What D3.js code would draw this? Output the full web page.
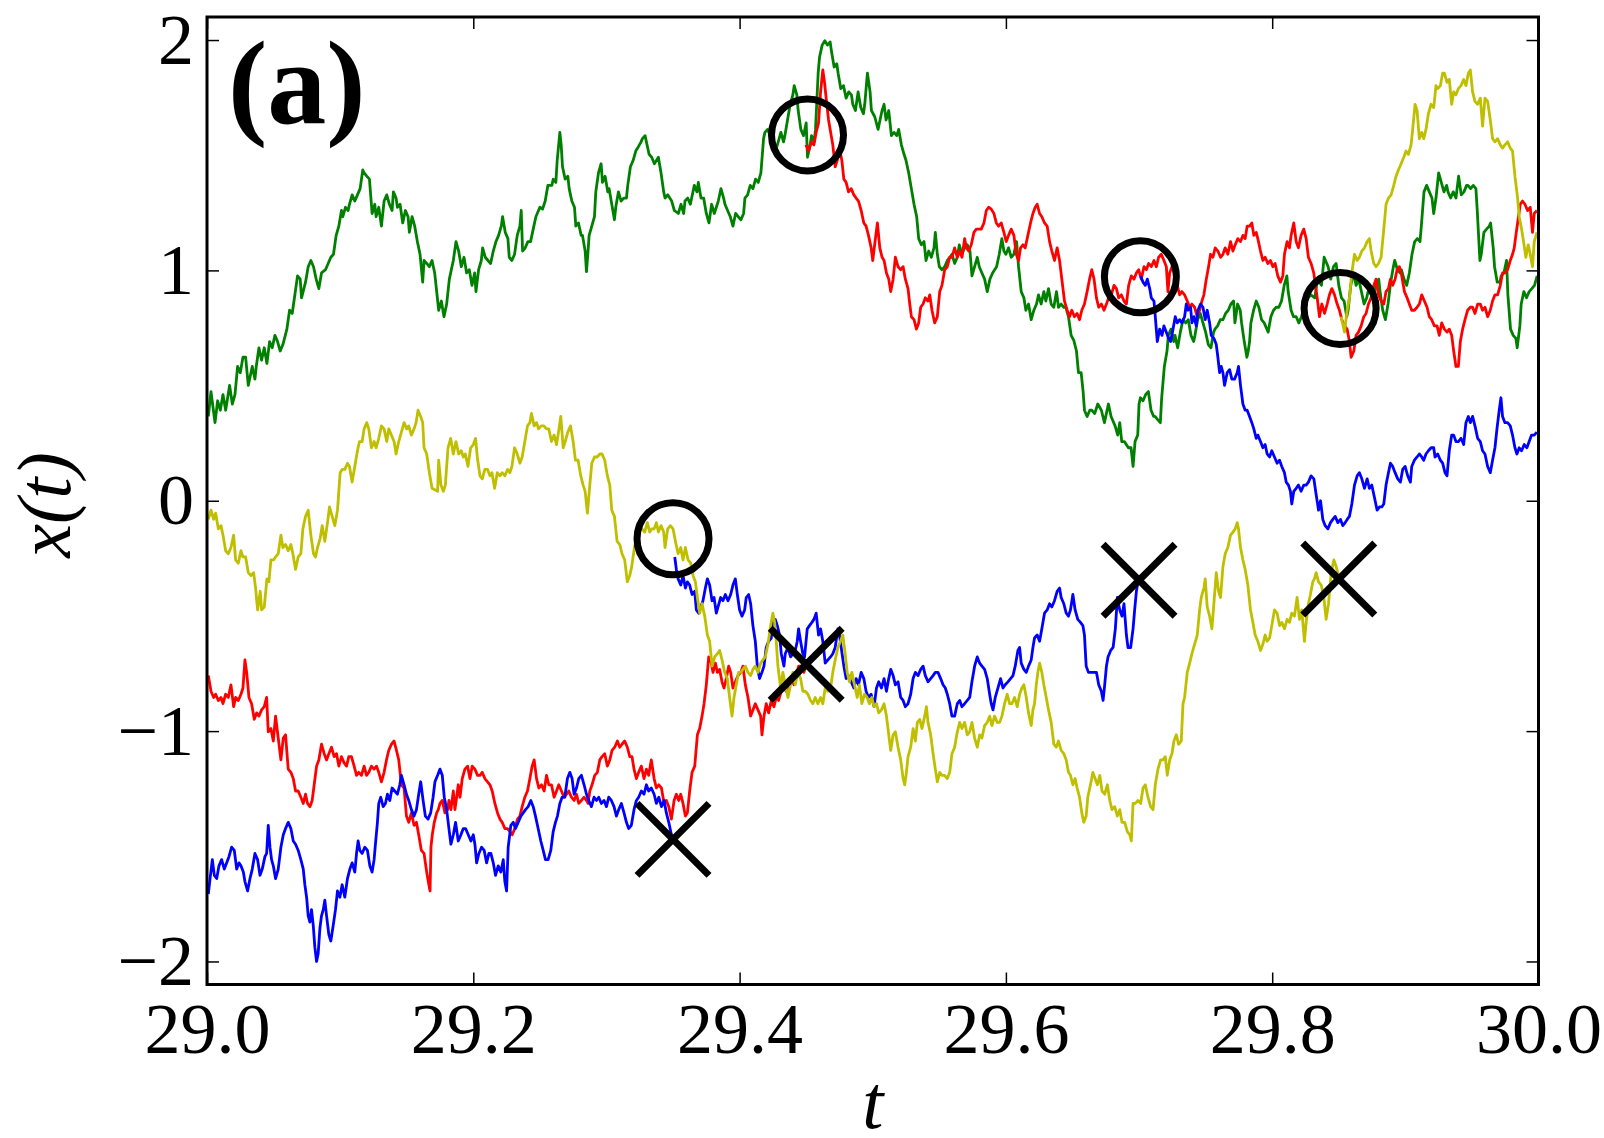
<!DOCTYPE html>
<html>
<head>
<meta charset="utf-8">
<script src="https://cdn.jsdelivr.net/npm/d3@7"></script>
<style>
  html, body { margin: 0; padding: 0; background: #fff; }
</style>
</head>
<body>
<div id="container"></div>
<script>
// trajectories: [t, x(t)]
const green = [
  [29.001,0.366],[29.003,0.474],[29.006,0.339],[29.008,0.434],[29.010,0.393],[29.012,0.461],[29.014,0.393],[29.017,0.501],[29.019,0.420],[29.021,0.461],[29.023,0.583],[29.025,0.556],[29.027,0.623],[29.029,0.623],[29.031,0.501],[29.034,0.583],[29.036,0.528],[29.037,0.583],[29.039,0.664],[29.041,0.610],[29.043,0.664],[29.045,0.596],[29.047,0.691],[29.049,0.664],[29.051,0.718],[29.053,0.691],[29.055,0.650],[29.057,0.678],[29.060,0.745],[29.062,0.827],[29.064,0.813],[29.066,0.894],[29.068,0.976],[29.070,0.962],[29.071,0.881],[29.074,0.949],[29.076,1.016],[29.078,1.043],[29.080,1.016],[29.082,0.962],[29.084,0.921],[29.086,0.989],[29.089,1.003],[29.091,1.030],[29.093,1.057],[29.095,1.070],[29.097,1.152],[29.099,1.192],[29.101,1.260],[29.102,1.233],[29.104,1.274],[29.106,1.260],[29.107,1.287],[29.109,1.328],[29.111,1.301],[29.113,1.328],[29.115,1.355],[29.117,1.436],[29.118,1.423],[29.120,1.409],[29.122,1.396],[29.124,1.247],[29.126,1.287],[29.127,1.233],[29.129,1.274],[29.131,1.192],[29.133,1.301],[29.135,1.328],[29.137,1.287],[29.139,1.260],[29.140,1.341],[29.142,1.314],[29.143,1.274],[29.145,1.287],[29.147,1.206],[29.149,1.260],[29.151,1.233],[29.152,1.165],[29.154,1.233],[29.156,1.192],[29.158,1.125],[29.160,1.070],[29.162,0.949],[29.163,1.043],[29.165,1.030],[29.167,1.016],[29.169,1.043],
  [29.171,0.989],[29.172,0.935],[29.174,0.827],[29.176,0.867],[29.178,0.799],[29.180,0.854],[29.182,0.962],[29.185,1.043],[29.187,1.125],[29.189,1.084],[29.191,1.016],[29.193,1.057],[29.195,0.989],[29.197,1.003],[29.199,0.935],[29.201,0.989],[29.202,0.908],[29.204,1.003],[29.206,1.043],[29.207,1.098],[29.209,1.057],[29.211,1.043],[29.213,1.030],[29.215,1.084],[29.217,1.125],[29.219,1.152],[29.221,1.192],[29.222,1.233],[29.224,1.165],[29.226,1.138],[29.227,1.057],[29.229,1.043],[29.231,1.070],[29.233,1.152],[29.235,1.192],[29.236,1.260],[29.237,1.084],[29.239,1.098],[29.241,1.125],[29.243,1.125],[29.245,1.179],[29.247,1.233],[29.250,1.274],[29.252,1.266],[29.254,1.301],[29.256,1.369],[29.259,1.369],[29.260,1.396],[29.262,1.382],[29.263,1.477],[29.265,1.599],[29.266,1.545],[29.267,1.450],[29.269,1.396],[29.271,1.409],[29.272,1.355],[29.274,1.301],[29.276,1.274],[29.277,1.192],[29.279,1.206],[29.281,1.152],[29.282,1.152],[29.284,1.084],[29.285,0.995],[29.286,1.070],[29.287,1.152],[29.289,1.192],[29.291,1.233],[29.292,1.341],[29.294,1.423],[29.296,1.463],[29.297,1.382],[29.299,1.409],[29.301,1.341],[29.302,1.355],[29.304,1.287],[29.306,1.220],[29.307,1.274],[29.309,1.341],[29.311,1.301],[29.313,1.314],[29.315,1.314],[29.316,1.369],[29.318,1.450],[29.320,1.477],[29.322,1.518],[29.324,1.537],[29.326,1.558],[29.327,1.572],[29.329,1.585],[29.331,1.531],[29.332,1.504],[29.334,1.491],[29.336,1.463],
  [29.339,1.491],[29.341,1.423],[29.343,1.341],[29.344,1.314],[29.346,1.328],[29.349,1.301],[29.351,1.260],[29.354,1.247],[29.356,1.287],[29.358,1.247],[29.359,1.301],[29.361,1.314],[29.363,1.287],[29.366,1.369],[29.368,1.341],[29.369,1.382],[29.371,1.314],[29.373,1.314],[29.375,1.247],[29.377,1.206],[29.379,1.287],[29.381,1.247],[29.384,1.301],[29.386,1.355],[29.388,1.314],[29.389,1.287],[29.391,1.260],[29.393,1.233],[29.395,1.192],[29.397,1.247],[29.399,1.233],[29.401,1.220],[29.403,1.247],[29.404,1.314],[29.406,1.328],[29.408,1.369],[29.410,1.355],[29.412,1.396],[29.414,1.382],[29.416,1.423],[29.418,1.572],[29.419,1.599],[29.421,1.612],[29.423,1.585],[29.425,1.558],[29.427,1.518],[29.429,1.558],[29.431,1.599],[29.433,1.558],[29.434,1.585],[29.436,1.653],[29.438,1.721],[29.440,1.762],[29.441,1.802],[29.443,1.762],[29.444,1.694],[29.446,1.612],[29.448,1.585],[29.450,1.640],[29.451,1.491],[29.453,1.545],[29.454,1.585],[29.456,1.558],[29.457,1.612],[29.459,1.856],[29.460,1.924],[29.462,1.978],[29.464,1.997],[29.466,1.978],[29.468,1.992],[29.469,1.951],[29.471,1.883],[29.473,1.897],[29.474,1.856],[29.476,1.789],[29.478,1.802],[29.480,1.748],[29.482,1.775],[29.484,1.762],[29.485,1.721],[29.487,1.694],[29.489,1.775],[29.491,1.707],[29.493,1.680],[29.494,1.721],[29.496,1.856],[29.498,1.775],[29.499,1.694],
  [29.5015,1.667],[29.504,1.612],[29.505,1.640],[29.507,1.694],[29.5085,1.721],[29.510,1.653],[29.512,1.694],[29.514,1.585],[29.516,1.599],[29.518,1.585],[29.5195,1.612],[29.5215,1.545],[29.5235,1.504],[29.525,1.477],[29.527,1.423],[29.529,1.355],[29.531,1.287],[29.533,1.233],[29.5345,1.138],[29.5365,1.111],[29.5385,1.125],[29.540,1.043],[29.542,1.084],[29.544,1.057],[29.546,1.098],[29.547,1.165],[29.5485,1.070],[29.550,1.016],[29.552,1.003],[29.554,1.016],[29.556,1.043],[29.558,1.057],[29.5595,1.070],[29.5615,1.030],[29.5635,1.057],[29.565,1.111],[29.567,1.070],[29.569,1.098],[29.571,1.111],[29.573,1.084],[29.5745,0.976],[29.5765,1.016],[29.5785,1.057],[29.580,1.016],[29.582,0.989],[29.584,0.962],[29.586,0.908],[29.588,0.962],[29.590,0.989],[29.593,1.016],[29.595,1.070],[29.597,1.138],[29.5985,1.084],[29.600,1.070],[29.602,1.098],[29.604,1.057],[29.606,1.070],[29.608,1.125],[29.6095,1.016],[29.6115,0.908],[29.6135,0.881],[29.615,0.827],[29.617,0.854],[29.619,0.786],[29.621,0.827],[29.623,0.854],[29.6245,0.894],[29.6265,0.854],[29.6285,0.908],[29.630,0.867],[29.632,0.921],[29.634,0.854],[29.636,0.840],[29.638,0.908],[29.6395,0.840],[29.6415,0.854],[29.6435,0.840],[29.645,0.840],[29.647,0.799],[29.649,0.718],[29.651,0.696],[29.653,0.650],[29.6545,0.556],[29.6565,0.556],[29.658,0.474],[29.659,0.393],[29.661,0.366],[29.663,0.393],[29.6645,0.393],
  [29.6667,0.379],[29.669,0.420],[29.6717,0.393],[29.674,0.339],[29.677,0.420],[29.679,0.366],[29.682,0.325],[29.684,0.285],[29.6855,0.339],[29.687,0.257],[29.689,0.257],[29.692,0.230],[29.694,0.230],[29.6955,0.149],[29.697,0.257],[29.699,0.285],[29.700,0.420],[29.701,0.447],[29.703,0.434],[29.705,0.461],[29.707,0.474],[29.709,0.393],[29.711,0.366],[29.712,0.366],[29.714,0.352],[29.716,0.339],[29.717,0.447],[29.719,0.583],[29.721,0.650],[29.722,0.718],[29.724,0.745],[29.726,0.691],[29.727,0.718],[29.729,0.664],[29.731,0.732],[29.733,0.786],[29.735,0.772],[29.737,0.786],[29.739,0.718],[29.741,0.691],[29.742,0.718],[29.744,0.786],[29.746,0.813],[29.748,0.772],[29.750,0.732],[29.752,0.678],[29.754,0.664],[29.756,0.732],[29.757,0.745],[29.759,0.759],[29.761,0.786],[29.763,0.786],[29.765,0.813],[29.767,0.827],[29.769,0.854],[29.771,0.867],[29.772,0.772],[29.774,0.854],[29.776,0.827],[29.777,0.772],[29.779,0.691],[29.781,0.623],[29.782,0.650],[29.783,0.691],[29.784,0.772],[29.786,0.827],[29.788,0.867],[29.790,0.840],[29.792,0.786],[29.794,0.772],[29.796,0.745],[29.797,0.732],[29.799,0.799],[29.801,0.827],[29.803,0.840],[29.805,0.840],[29.807,0.867],[29.809,0.935],[29.811,0.976],[29.812,0.908],[29.8142,0.827],[29.816,0.799],[29.818,0.799],[29.820,0.772],[29.822,0.799],[29.824,0.840],[29.827,0.881],[29.829,0.894],
  [29.832,0.881],[29.834,0.962],[29.837,0.935],[29.839,1.057],[29.842,1.016],[29.844,0.962],[29.846,1.016],[29.848,1.030],[29.850,0.935],[29.852,0.881],[29.854,0.867],[29.856,0.799],[29.857,0.827],[29.859,0.935],[29.861,0.989],[29.863,0.935],[29.865,0.962],[29.867,0.908],[29.869,0.854],[29.871,0.881],[29.872,0.908],[29.874,0.921],[29.876,0.881],[29.878,0.935],[29.880,0.962],[29.881,0.908],[29.883,0.827],[29.885,0.786],[29.887,0.854],[29.889,0.949],[29.891,1.016],[29.892,1.043],[29.894,1.003],[29.896,0.989],[29.897,1.003],[29.899,0.962],[29.901,0.935],[29.903,0.989],[29.905,1.070],[29.907,1.125],[29.909,1.138],[29.911,1.125],[29.912,1.192],[29.914,1.341],[29.916,1.369],[29.918,1.341],[29.920,1.314],[29.9213,1.247],[29.923,1.314],[29.925,1.423],[29.927,1.382],[29.929,1.341],[29.931,1.369],[29.932,1.341],[29.934,1.314],[29.936,1.341],[29.938,1.314],[29.940,1.409],[29.942,1.328],[29.944,1.341],[29.946,1.369],[29.947,1.369],[29.949,1.355],[29.951,1.369],[29.953,1.355],[29.954,1.260],[29.956,1.043],[29.957,1.070],[29.959,1.165],[29.961,1.179],[29.963,1.192],[29.964,1.206],[29.966,1.098],[29.967,1.016],[29.969,0.949],[29.971,0.949],[29.972,0.976],[29.974,0.989],[29.976,1.043],[29.977,0.894],[29.979,0.745],[29.981,0.718],[29.983,0.705],[29.984,0.664],[29.986,0.759],[29.987,0.854],[29.989,0.908],[29.991,0.881],[29.993,0.908],[29.995,0.921],[29.997,0.935],[29.999,0.976]
];

const red1 = [
  [29.001,-0.759],[29.003,-0.827],[29.005,-0.854],[29.0065,-0.840],[29.0085,-0.867],[29.0105,-0.854],[29.012,-0.881],[29.014,-0.840],[29.016,-0.854],[29.018,-0.799],[29.020,-0.894],[29.0215,-0.854],[29.0235,-0.867],[29.0255,-0.840],[29.027,-0.813],[29.0285,-0.691],[29.0298,-0.745],[29.0315,-0.854],[29.0335,-0.881],[29.0355,-0.949],[29.0373,-0.921],[29.039,-0.935],[29.041,-0.908],[29.043,-0.894],[29.0448,-0.854],[29.046,-1.003],[29.048,-0.989],[29.0498,-1.043],[29.0515,-0.935],[29.0535,-1.030],[29.0555,-1.125],[29.0573,-1.030],[29.059,-1.016],[29.061,-1.165],[29.063,-1.179],[29.0648,-1.206],[29.0665,-1.260],[29.0685,-1.260],[29.0705,-1.287],[29.0723,-1.314],[29.074,-1.274],[29.0755,-1.314],[29.0773,-1.328],[29.079,-1.301],[29.0805,-1.233],[29.0823,-1.152],[29.084,-1.125],[29.086,-1.057],[29.088,-1.098],[29.0898,-1.125],[29.0915,-1.098],[29.0935,-1.070],[29.0955,-1.111],[29.0973,-1.098],[29.099,-1.152],[29.101,-1.111],[29.103,-1.138],[29.1048,-1.152],[29.1065,-1.111],[29.1085,-1.111],[29.1105,-1.152],[29.1123,-1.192],[29.114,-1.179],[29.116,-1.192],[29.118,-1.152],[29.1198,-1.192],[29.1215,-1.179],[29.1235,-1.152],[29.1255,-1.165],[29.1273,-1.152],[29.129,-1.179],[29.131,-1.220],[29.133,-1.179],[29.1348,-1.125],[29.1365,-1.084],[29.1385,-1.057],[29.1405,-1.043],[29.1423,-1.084],[29.144,-1.125],[29.146,-1.233],[29.148,-1.247],[29.1498,-1.369],[29.1515,-1.396],[29.1535,-1.355],[29.1555,-1.409],[29.1573,-1.396],[29.159,-1.450],[29.161,-1.518],[29.163,-1.531],
  [29.165,-1.612],[29.1662,-1.653],[29.1675,-1.694],[29.1682,-1.504],[29.1692,-1.450],[29.1707,-1.396],[29.1725,-1.355],[29.1737,-1.341],[29.175,-1.314],[29.1767,-1.301],[29.1787,-1.355],[29.1807,-1.341],[29.1817,-1.301],[29.1832,-1.341],[29.185,-1.260],[29.1862,-1.341],[29.1875,-1.287],[29.1887,-1.233],[29.19,-1.287],[29.1917,-1.206],[29.1937,-1.165],[29.1957,-1.152],[29.1975,-1.206],[29.1992,-1.152],[29.2012,-1.165],[29.2032,-1.192],[29.205,-1.192],[29.2067,-1.179],[29.2087,-1.206],[29.2107,-1.220],[29.2125,-1.233],[29.2142,-1.260],[29.2162,-1.314],[29.2182,-1.355],[29.22,-1.382],[29.2217,-1.396],[29.2237,-1.423],[29.2257,-1.423],[29.2275,-1.436],[29.2292,-1.450],[29.2312,-1.423],[29.2332,-1.382],[29.235,-1.369],[29.2367,-1.328],[29.2387,-1.287],[29.2407,-1.260],[29.2425,-1.206],[29.2442,-1.152],[29.2457,-1.125],[29.2475,-1.206],[29.2492,-1.247],[29.2512,-1.233],[29.2532,-1.260],[29.255,-1.192],[29.2567,-1.233],[29.2587,-1.233],[29.2607,-1.287],[29.2625,-1.260],[29.2642,-1.233],[29.2662,-1.260],[29.2682,-1.287],[29.27,-1.274],[29.2717,-1.260],[29.2737,-1.287],[29.2757,-1.301],[29.2775,-1.274],[29.2792,-1.314],[29.2812,-1.301],[29.2832,-1.287],[29.285,-1.301],[29.2862,-1.314],[29.2875,-1.260],[29.2892,-1.233],[29.2912,-1.192],[29.2932,-1.179],[29.295,-1.125],[29.2967,-1.111],[29.2987,-1.098],[29.3007,-1.152],[29.3025,-1.125],[29.3042,-1.084],[29.3062,-1.070],[29.3082,-1.043],[29.31,-1.070],[29.3117,-1.057],[29.3137,-1.043],[29.3157,-1.070],[29.3175,-1.111],[29.3192,-1.111],[29.3207,-1.165],[29.3225,-1.206],[29.3242,-1.179],[29.3262,-1.152],[29.3282,-1.206],[29.33,-1.165],[29.3317,-1.192],[29.3337,-1.125],
  [29.3358,-1.206],[29.3375,-1.247],[29.3393,-1.233],[29.3413,-1.247],[29.3433,-1.314],[29.345,-1.301],[29.3468,-1.328],[29.3488,-1.382],[29.3508,-1.301],[29.3525,-1.274],[29.3543,-1.301],[29.3558,-1.274],[29.3575,-1.314],[29.3593,-1.369],[29.3608,-1.355],[29.3625,-1.260],[29.3643,-1.179],[29.3663,-1.152],[29.3683,-1.016],[29.37,-0.989],[29.3718,-0.935],[29.3733,-0.881],[29.375,-0.799],[29.3768,-0.678],[29.3783,-0.691],[29.38,-0.745],[29.3818,-0.705],[29.3833,-0.745],[29.385,-0.732],[29.3868,-0.786],[29.3883,-0.813],[29.39,-0.772],[29.3918,-0.718],[29.3933,-0.745],[29.395,-0.813],[29.3968,-0.786],[29.3988,-0.759],[29.4008,-0.745],[29.4025,-0.718],[29.4043,-0.799],[29.4063,-0.854],[29.4083,-0.935],[29.41,-0.908],[29.4118,-0.881],[29.4138,-0.908],[29.4158,-0.935],[29.4168,-1.016],[29.4183,-0.935],[29.42,-0.881],[29.4218,-0.921],[29.4238,-0.867],[29.4258,-0.894],[29.4275,-0.854],[29.4293,-0.867],[29.4313,-0.827],[29.4333,-0.813],[29.435,-0.827],[29.4368,-0.799],[29.4388,-0.772],[29.4408,-0.799],[29.4425,-0.759],[29.4443,-0.718],[29.4463,-0.718],[29.4483,-0.745],[29.45,-0.713]
];

const red2 = [
  [29.4498,1.545],[29.4518,1.518],[29.4538,1.558],[29.4558,1.545],[29.4575,1.599],[29.4593,1.640],[29.4608,1.775],[29.4625,1.870],[29.4638,1.816],[29.465,1.748],[29.4668,1.653],[29.4688,1.585],[29.47,1.545],[29.4718,1.450],[29.4733,1.477],[29.475,1.531],[29.4768,1.477],[29.4783,1.396],[29.48,1.382],[29.4818,1.341],[29.4838,1.355],[29.4858,1.328],[29.4875,1.314],[29.4893,1.301],[29.4913,1.260],[29.4933,1.206],[29.495,1.192],[29.4968,1.152],[29.4988,1.098],[29.5,1.043],
  [29.502,1.138],[29.5035,1.206],[29.5053,1.098],[29.507,1.057],[29.5085,1.043],[29.5103,0.989],[29.512,0.962],[29.5135,0.908],[29.5153,0.962],[29.517,1.057],[29.519,1.016],[29.521,1.003],[29.5228,1.016],[29.5245,0.962],[29.5265,0.921],[29.5278,0.854],[29.529,0.799],[29.531,0.786],[29.5328,0.745],[29.5345,0.772],[29.536,0.840],[29.5378,0.854],[29.5395,0.881],[29.5415,0.867],[29.5428,0.894],[29.5445,0.827],[29.5465,0.772],[29.5485,0.799],[29.5503,0.908],[29.552,0.935],[29.554,1.003],[29.556,1.016],[29.5578,1.057],[29.5595,1.057],[29.5615,1.098],[29.5635,1.057],[29.5653,1.084],[29.567,1.057],[29.569,1.138],[29.5703,1.098],[29.572,1.084],[29.574,1.111],[29.576,1.165],[29.5778,1.179],[29.5795,1.179],[29.5815,1.179],[29.5835,1.206],[29.5853,1.260],[29.587,1.274],[29.589,1.266],[29.591,1.247],[29.5928,1.206],[29.5945,1.192],[29.5965,1.206],[29.5985,1.165],[29.6003,1.125],[29.602,1.152],[29.604,1.179],[29.606,1.152],[29.6078,1.070],[29.6095,1.043],[29.611,1.098],[29.6128,1.111],[29.6145,1.098],[29.6165,1.152],[29.6185,1.206],[29.6203,1.247],[29.622,1.274],[29.6235,1.287],[29.6253,1.247],[29.627,1.233],[29.629,1.206],[29.631,1.192],[29.6328,1.125],[29.6345,1.084],[29.6365,1.043],[29.6385,1.098],[29.6403,1.043],[29.642,0.962],[29.644,0.867],[29.646,0.827],[29.6478,0.799],[29.6495,0.827],[29.6515,0.799],[29.6535,0.813],[29.6553,0.786],[29.657,0.827],[29.659,0.854],[29.661,0.908],[29.6628,0.962],[29.6645,1.003],
  [29.6662,0.962],[29.668,0.881],[29.6697,0.840],[29.6717,0.854],[29.6737,0.827],[29.6755,0.854],[29.6772,0.881],[29.6792,0.894],[29.6812,0.935],[29.683,0.921],[29.6847,0.881],[29.6867,0.894],[29.6887,0.867],[29.6905,0.854],[29.6922,0.935],[29.6942,0.976],[29.6962,0.962],[29.698,0.989],[29.6997,1.003],[29.7017,0.962],[29.7037,1.016],[29.7055,1.003],[29.7072,1.030],[29.7092,1.016],[29.7112,1.043],[29.713,1.016],[29.7147,1.057],[29.7167,1.070],[29.7187,1.043],[29.7205,1.016],[29.7217,0.908],[29.723,0.989],[29.7247,1.016],[29.7267,0.989],[29.7287,0.935],[29.7305,0.894],[29.7322,0.908],[29.7342,0.894],[29.7362,0.867],[29.738,0.840],[29.7397,0.854],[29.7417,0.840],[29.7437,0.799],[29.7455,0.827],[29.7472,0.867],[29.7487,0.894],[29.7505,0.962],[29.7522,1.016],[29.7537,1.070],[29.7555,1.057],[29.7572,1.098],[29.7592,1.084],[29.7612,1.057],[29.763,1.070],[29.7647,1.098],[29.7667,1.070],[29.7687,1.125],[29.7705,1.084],[29.7722,1.111],[29.7742,1.138],[29.7762,1.125],[29.778,1.152],[29.7797,1.138],[29.7812,1.192],[29.783,1.192],[29.7847,1.206],[29.7862,1.152],[29.788,1.165],[29.7892,1.138],[29.7912,1.084],[29.793,1.043],[29.7947,1.057],[29.7967,1.030],[29.7987,1.043],[29.8005,1.016],[29.8022,1.030],[29.8042,0.976],[29.8062,0.949],[29.808,0.976],[29.8092,1.070],[29.8112,1.125],[29.813,1.098],[29.8142,1.152],[29.8162,1.206],[29.818,1.125],[29.8197,1.098],[29.8217,1.152],[29.8237,1.179],[29.8255,1.138],[29.8272,1.057],[29.8292,1.030],[29.8312,0.989],
  [29.8338,0.881],[29.8355,0.799],[29.8373,0.854],[29.8393,0.813],[29.8413,0.854],[29.843,0.894],[29.8448,0.921],[29.8468,0.894],[29.8488,0.854],[29.8505,0.827],[29.8523,0.786],[29.8543,0.759],[29.8563,0.745],[29.858,0.691],[29.8593,0.623],[29.8613,0.650],[29.863,0.718],[29.8648,0.732],[29.8668,0.759],[29.8688,0.799],[29.8705,0.813],[29.8723,0.854],[29.8743,0.881],[29.8763,0.935],[29.878,0.962],[29.8798,0.894],[29.8818,0.867],[29.8838,0.854],[29.8855,0.908],[29.8873,0.921],[29.8888,0.962],[29.8905,0.935],[29.8923,0.962],[29.8938,1.003],[29.8955,1.016],[29.8973,0.976],[29.8993,0.908],[29.9013,0.881],[29.903,0.854],[29.9048,0.827],[29.9068,0.827],[29.9088,0.840],[29.9105,0.854],[29.9123,0.894],[29.9143,0.867],[29.9163,0.840],[29.918,0.799],[29.9198,0.786],[29.9218,0.759],[29.9238,0.759],[29.9255,0.718],[29.9273,0.772],[29.9293,0.745],[29.9313,0.732],[29.933,0.745],[29.9348,0.718],[29.9363,0.650],[29.938,0.583],[29.9398,0.583],[29.9413,0.691],[29.943,0.745],[29.9448,0.786],[29.9468,0.827],[29.9488,0.840],[29.9505,0.840],[29.9523,0.813],[29.9543,0.854],[29.9563,0.854],[29.958,0.827],[29.9598,0.840],[29.9618,0.799],[29.9638,0.827],[29.9655,0.867],[29.9673,0.894],[29.9693,0.894],[29.9713,0.935],[29.973,0.989],[29.9748,0.989],[29.9768,1.003],[29.9788,1.043],[29.9805,1.070],[29.9818,1.098],[29.983,1.152],[29.9843,1.206],[29.9863,1.287],[29.988,1.301],[29.9898,1.287],[29.9918,1.260],[29.9938,1.274],[29.9955,1.165],[29.9968,1.247],[29.9988,1.260]
];

const blue1 = [
  [29.001,-1.707],[29.0023,-1.640],[29.004,-1.558],[29.0055,-1.626],[29.0073,-1.640],[29.009,-1.585],[29.011,-1.558],[29.013,-1.599],[29.0148,-1.572],[29.0165,-1.545],[29.0185,-1.504],[29.0205,-1.518],[29.0223,-1.599],[29.024,-1.572],[29.0255,-1.585],[29.0273,-1.612],[29.0285,-1.653],[29.0305,-1.694],[29.0323,-1.640],[29.034,-1.599],[29.036,-1.531],[29.038,-1.558],[29.0398,-1.626],[29.0415,-1.599],[29.0435,-1.545],[29.0448,-1.531],[29.046,-1.409],[29.0473,-1.504],[29.0485,-1.558],[29.0498,-1.585],[29.0515,-1.640],[29.0535,-1.599],[29.0555,-1.504],[29.0573,-1.450],[29.059,-1.423],[29.061,-1.396],[29.063,-1.423],[29.0648,-1.477],[29.0665,-1.491],[29.0685,-1.518],[29.0705,-1.558],[29.0723,-1.599],[29.0735,-1.667],[29.0748,-1.721],[29.076,-1.802],[29.0773,-1.829],[29.0785,-1.775],[29.0798,-1.843],[29.081,-1.938],[29.0823,-2.000],[29.0835,-1.965],[29.0848,-1.856],[29.086,-1.802],[29.0873,-1.775],[29.0885,-1.734],[29.0898,-1.802],[29.0915,-1.883],[29.093,-1.911],[29.0948,-1.843],[29.0965,-1.775],[29.098,-1.694],[29.0998,-1.721],[29.1015,-1.667],[29.1035,-1.721],[29.1055,-1.640],[29.1073,-1.599],[29.109,-1.572],[29.111,-1.612],[29.1123,-1.531],[29.1135,-1.477],[29.1148,-1.518],[29.1165,-1.531],[29.1185,-1.504],[29.1205,-1.518],[29.1223,-1.585],[29.124,-1.612],[29.1255,-1.558],[29.1265,-1.491],[29.128,-1.396],[29.129,-1.314],[29.1305,-1.287],[29.1323,-1.328],[29.134,-1.314],[29.1355,-1.274],[29.1373,-1.301],[29.139,-1.247],[29.141,-1.260],[29.143,-1.274],[29.1448,-1.233],[29.146,-1.192],[29.148,-1.233],[29.1498,-1.274],[29.1515,-1.301],[29.1535,-1.341],[29.1555,-1.369],[29.1573,-1.341],[29.159,-1.274],[29.1605,-1.220],[29.1623,-1.301],[29.164,-1.369],[29.166,-1.382],[29.168,-1.355],[29.1698,-1.287],
  [29.1712,-1.220],[29.1732,-1.192],[29.175,-1.165],[29.1767,-1.192],[29.1782,-1.287],[29.18,-1.341],[29.1817,-1.423],[29.1832,-1.491],[29.185,-1.450],[29.1867,-1.396],[29.1887,-1.477],[29.1907,-1.450],[29.1925,-1.423],[29.1942,-1.423],[29.1962,-1.450],[29.1982,-1.477],[29.2,-1.450],[29.2012,-1.491],[29.2025,-1.572],[29.2042,-1.531],[29.2062,-1.504],[29.2082,-1.518],[29.21,-1.572],[29.2117,-1.531],[29.2132,-1.531],[29.215,-1.572],[29.2167,-1.626],[29.2187,-1.585],[29.2207,-1.612],[29.2225,-1.558],[29.2237,-1.653],[29.225,-1.694],[29.2262,-1.504],[29.2282,-1.409],[29.23,-1.396],[29.2317,-1.423],[29.2337,-1.396],[29.2357,-1.369],[29.2375,-1.355],[29.2392,-1.341],[29.2412,-1.328],[29.2432,-1.301],[29.245,-1.328],[29.2467,-1.369],[29.2487,-1.423],[29.2507,-1.477],[29.2525,-1.518],[29.2542,-1.558],[29.2562,-1.558],[29.2582,-1.518],[29.26,-1.436],[29.2617,-1.396],[29.2632,-1.369],[29.265,-1.314],[29.2667,-1.287],[29.2687,-1.287],[29.2707,-1.206],[29.2725,-1.179],[29.2742,-1.206],[29.2757,-1.274],[29.2775,-1.247],[29.2792,-1.206],[29.2812,-1.192],[29.2832,-1.233],[29.285,-1.274],[29.2867,-1.301],[29.2887,-1.328],[29.2907,-1.287],[29.2925,-1.301],[29.2942,-1.287],[29.2962,-1.314],[29.2982,-1.301],[29.3,-1.328],[29.3017,-1.287],[29.3037,-1.301],[29.3057,-1.328],[29.3075,-1.369],[29.3092,-1.341],[29.3112,-1.314],[29.3132,-1.355],[29.315,-1.396],[29.3167,-1.423],[29.3187,-1.409],[29.3207,-1.341],[29.3225,-1.301],[29.3242,-1.287],[29.3262,-1.260],[29.3282,-1.274],[29.33,-1.233],[29.3317,-1.260],[29.3337,-1.247],
  [29.3358,-1.274],[29.3375,-1.314],[29.3393,-1.287],[29.3413,-1.328],[29.3433,-1.301],[29.345,-1.355],[29.3468,-1.396],[29.3488,-1.450],[29.35,-1.477]
];

const blue2 = [
  [29.3513,-0.244],[29.3525,-0.298],[29.3538,-0.339],[29.3558,-0.366],[29.3575,-0.325],[29.3593,-0.379],[29.3608,-0.352],[29.3625,-0.366],[29.3643,-0.407],[29.3663,-0.393],[29.3675,-0.474],[29.3693,-0.488],[29.3708,-0.461],[29.3725,-0.434],[29.3743,-0.379],[29.3758,-0.339],[29.3775,-0.366],[29.3793,-0.434],[29.3808,-0.420],[29.3825,-0.488],[29.3838,-0.461],[29.3858,-0.420],[29.3875,-0.434],[29.3893,-0.407],[29.3913,-0.434],[29.3933,-0.407],[29.395,-0.366],[29.3968,-0.339],[29.3983,-0.407],[29.4,-0.474],[29.4018,-0.501],[29.4038,-0.474],[29.405,-0.420],[29.4068,-0.407],[29.4083,-0.447],[29.41,-0.542],[29.4118,-0.610],[29.4133,-0.718],[29.415,-0.772],[29.4168,-0.745],[29.4183,-0.718],[29.42,-0.637],[29.4218,-0.610],[29.4238,-0.596],[29.425,-0.515],[29.4268,-0.515],[29.4283,-0.542],[29.43,-0.583],[29.4313,-0.664],[29.4333,-0.718],[29.4343,-0.664],[29.4363,-0.637],[29.4383,-0.678],[29.44,-0.664],[29.4418,-0.650],[29.4433,-0.610],[29.4443,-0.556],[29.4458,-0.610],[29.4475,-0.664],[29.4488,-0.678],[29.4508,-0.556],[29.4525,-0.542],[29.4543,-0.528],[29.4558,-0.515],[29.4575,-0.488],[29.4593,-0.583],[29.4608,-0.556],[29.4625,-0.610],[29.4643,-0.705],[29.4663,-0.691],[29.4683,-0.678],[29.47,-0.664],[29.4718,-0.637],[29.4738,-0.556],[29.475,-0.583],[29.4763,-0.637],[29.4783,-0.718],[29.48,-0.772],[29.4818,-0.759],[29.4838,-0.786],[29.4858,-0.813],[29.4875,-0.772],[29.4893,-0.799],[29.4913,-0.745],[29.4933,-0.772],[29.495,-0.827],[29.4968,-0.854],[29.4988,-0.840],
  [29.501,-0.894],[29.5028,-0.813],[29.5045,-0.786],[29.5065,-0.813],[29.5085,-0.772],[29.5103,-0.827],[29.512,-0.772],[29.5135,-0.732],[29.5153,-0.759],[29.517,-0.799],[29.519,-0.786],[29.521,-0.854],[29.5228,-0.867],[29.5245,-0.894],[29.5265,-0.881],[29.5285,-0.840],[29.5303,-0.772],[29.532,-0.745],[29.534,-0.759],[29.536,-0.732],[29.5378,-0.718],[29.5395,-0.759],[29.5415,-0.786],[29.5435,-0.772],[29.5453,-0.759],[29.547,-0.745],[29.549,-0.745],[29.551,-0.772],[29.5528,-0.799],[29.5545,-0.813],[29.556,-0.840],[29.5578,-0.881],[29.5595,-0.935],[29.5615,-0.935],[29.5635,-0.881],[29.5653,-0.867],[29.567,-0.894],[29.569,-0.881],[29.571,-0.867],[29.5728,-0.854],[29.5745,-0.786],[29.5765,-0.718],[29.5785,-0.678],[29.5803,-0.705],[29.582,-0.718],[29.584,-0.732],[29.586,-0.772],[29.5878,-0.840],[29.589,-0.881],[29.5903,-0.908],[29.592,-0.854],[29.594,-0.813],[29.596,-0.772],[29.5978,-0.813],[29.5995,-0.799],[29.6015,-0.786],[29.6035,-0.772],[29.6053,-0.759],[29.607,-0.718],[29.609,-0.650],[29.6103,-0.637],[29.6115,-0.705],[29.6135,-0.732],[29.6153,-0.745],[29.617,-0.718],[29.619,-0.691],[29.6203,-0.637],[29.6215,-0.596],[29.6235,-0.583],[29.6253,-0.610],[29.627,-0.556],[29.629,-0.488],[29.631,-0.474],[29.6328,-0.447],[29.6345,-0.461],[29.6365,-0.434],[29.6385,-0.393],[29.6403,-0.379],[29.6415,-0.420],[29.6435,-0.447],[29.6453,-0.488],[29.647,-0.501],[29.6485,-0.474],[29.6503,-0.407],[29.652,-0.474],[29.654,-0.515],[29.656,-0.528],[29.6578,-0.542],[29.659,-0.583],[29.6603,-0.718],[29.662,-0.745],[29.664,-0.745],
  [29.6662,-0.745],[29.668,-0.745],[29.6697,-0.799],[29.6717,-0.827],[29.673,-0.867],[29.6742,-0.799],[29.6755,-0.718],[29.6767,-0.678],[29.6787,-0.650],[29.6805,-0.637],[29.6822,-0.556],[29.6837,-0.420],[29.6855,-0.474],[29.6872,-0.501],[29.6887,-0.447],[29.6905,-0.583],[29.6917,-0.637],[29.6937,-0.637],[29.6955,-0.556],[29.6967,-0.474],[29.698,-0.393],[29.6992,-0.352],[29.7005,-0.352]
];

const blue3 = [
  [29.7012,0.976],[29.703,0.949],[29.7047,0.935],[29.7062,0.962],[29.708,0.921],[29.7092,0.881],[29.7112,0.867],[29.7122,0.799],[29.7137,0.691],[29.7155,0.745],[29.7172,0.718],[29.7187,0.759],[29.7205,0.732],[29.7222,0.705],[29.7237,0.691],[29.7255,0.745],[29.7272,0.799],[29.7287,0.772],[29.7305,0.786],[29.7322,0.772],[29.7342,0.799],[29.7355,0.854],[29.7367,0.827],[29.7387,0.840],[29.7397,0.772],[29.7412,0.799],[29.743,0.759],[29.7442,0.827],[29.7462,0.854],[29.748,0.840],[29.7497,0.786],[29.7512,0.827],[29.753,0.772],[29.7542,0.718],[29.7562,0.705],[29.758,0.678],[29.7592,0.623],[29.7605,0.556],[29.7617,0.583],[29.763,0.556],[29.7642,0.501],[29.7662,0.556],[29.768,0.569],[29.7697,0.528],[29.7717,0.528],[29.7737,0.556],[29.7747,0.583],[29.7762,0.501],[29.778,0.420],[29.7797,0.393],[29.7812,0.393],[29.783,0.366],[29.7847,0.339],[29.7862,0.312],[29.788,0.271],[29.7892,0.285],[29.7912,0.257],[29.793,0.230],[29.7947,0.244],[29.7962,0.203],[29.798,0.190],[29.7997,0.217],[29.8017,0.190],[29.8037,0.163],[29.8055,0.176],[29.8072,0.149],[29.8092,0.122],[29.8105,0.081],[29.8122,0.068],[29.8137,0.041],[29.8147,-0.014],[29.8162,0.041],[29.818,0.054],[29.8197,0.068],[29.8217,0.041],[29.8237,0.068],[29.8255,0.068],[29.8272,0.081],[29.8292,0.108],
  [29.8313,0.095],[29.833,0.027],[29.8348,-0.041],[29.8363,0.000],[29.838,-0.081],[29.8398,-0.108],[29.8418,-0.122],[29.8438,-0.095],[29.8455,-0.081],[29.8473,-0.068],[29.8493,-0.095],[29.8513,-0.081],[29.853,-0.108],[29.8548,-0.095],[29.8563,-0.081],[29.858,-0.068],[29.8598,-0.014],[29.8618,0.068],[29.8638,0.108],[29.8655,0.122],[29.8673,0.095],[29.8693,0.054],[29.8713,0.095],[29.873,0.054],[29.8748,0.068],[29.8768,0.014],[29.8788,-0.041],[29.8805,-0.027],[29.8823,-0.027],[29.8838,-0.014],[29.8855,0.068],[29.8873,0.122],[29.8888,0.163],[29.8905,0.149],[29.8923,0.122],[29.8943,0.095],[29.8963,0.081],[29.898,0.136],[29.8998,0.149],[29.9018,0.108],[29.9038,0.081],[29.9048,0.149],[29.9068,0.176],[29.9088,0.190],[29.9105,0.203],[29.9123,0.190],[29.9138,0.176],[29.9155,0.203],[29.9173,0.217],[29.9193,0.230],[29.9213,0.230],[29.9223,0.190],[29.9243,0.203],[29.9263,0.176],[29.928,0.163],[29.9298,0.122],[29.9313,0.108],[29.933,0.217],[29.9348,0.285],[29.9363,0.285],[29.938,0.257],[29.9398,0.257],[29.9418,0.271],[29.9438,0.244],[29.9455,0.339],[29.9473,0.366],[29.9488,0.339],[29.9505,0.366],[29.9523,0.325],[29.9543,0.271],[29.9563,0.257],[29.958,0.217],[29.9598,0.203],[29.9618,0.149],[29.9638,0.122],[29.9655,0.176],[29.9673,0.230],[29.9688,0.312],[29.9705,0.393],[29.9718,0.447],[29.973,0.366],[29.9748,0.339],[29.9768,0.339],[29.9788,0.325],[29.9805,0.285],[29.9823,0.230],[29.9838,0.203],[29.9855,0.230],[29.9873,0.217],[29.9893,0.244],[29.9913,0.230],[29.993,0.257],[29.9948,0.285],[29.9968,0.285],[29.9988,0.298]
];

const yellow1 = [
  [29.001,-0.081],[29.003,-0.041],[29.005,-0.081],[29.0065,-0.054],[29.0085,-0.122],[29.0105,-0.108],[29.012,-0.149],[29.014,-0.217],[29.016,-0.230],[29.018,-0.203],[29.020,-0.149],[29.0215,-0.257],[29.0235,-0.271],[29.0255,-0.217],[29.027,-0.244],[29.029,-0.244],[29.031,-0.312],[29.033,-0.325],[29.035,-0.312],[29.0365,-0.379],[29.038,-0.474],[29.040,-0.393],[29.041,-0.474],[29.043,-0.461],[29.045,-0.339],[29.0465,-0.352],[29.048,-0.257],[29.050,-0.257],[29.0515,-0.244],[29.0535,-0.230],[29.0555,-0.149],[29.057,-0.203],[29.059,-0.190],[29.061,-0.217],[29.063,-0.190],[29.0645,-0.230],[29.0665,-0.298],[29.0685,-0.244],[29.0705,-0.230],[29.072,-0.122],[29.074,-0.068],[29.076,-0.041],[29.078,-0.149],[29.080,-0.230],[29.0815,-0.244],[29.083,-0.203],[29.085,-0.163],[29.0865,-0.108],[29.0885,-0.176],[29.0905,-0.095],[29.092,-0.027],[29.094,-0.068],[29.096,-0.108],[29.098,-0.041],[29.100,0.122],[29.1015,0.136],[29.1035,0.136],[29.1055,0.163],[29.107,0.149],[29.109,0.081],[29.111,0.149],[29.113,0.217],[29.1145,0.257],[29.1165,0.257],[29.118,0.312],[29.120,0.339],[29.1215,0.312],[29.1235,0.230],[29.1255,0.257],[29.127,0.230],[29.129,0.271],[29.131,0.325],[29.133,0.312],[29.135,0.257],[29.1365,0.312],[29.1385,0.285],[29.1405,0.257],[29.142,0.203],[29.144,0.257],[29.146,0.298],[29.148,0.339],[29.150,0.312],[29.1515,0.325],[29.1535,0.285],[29.1555,0.312],[29.157,0.339],[29.1585,0.393],[29.1605,0.366],[29.162,0.339],[29.163,0.230],[29.165,0.203],[29.167,0.122],[29.169,0.054],
  [29.1732,0.041],[29.174,0.176],[29.1757,0.068],[29.1775,0.041],[29.179,0.068],[29.181,0.230],[29.183,0.271],[29.185,0.203],[29.187,0.257],[29.189,0.203],[29.191,0.217],[29.1925,0.190],[29.194,0.203],[29.196,0.149],[29.198,0.230],[29.200,0.244],[29.2017,0.271],[29.203,0.190],[29.205,0.108],[29.2067,0.095],[29.2087,0.136],[29.2107,0.136],[29.2125,0.108],[29.214,0.122],[29.216,0.054],[29.218,0.122],[29.220,0.108],[29.2217,0.122],[29.2237,0.108],[29.2257,0.136],[29.2275,0.122],[29.229,0.149],[29.231,0.230],[29.233,0.203],[29.235,0.163],[29.2367,0.190],[29.2387,0.257],[29.2407,0.325],[29.2425,0.339],[29.2437,0.379],[29.2457,0.325],[29.2475,0.339],[29.249,0.312],[29.251,0.325],[29.253,0.325],[29.255,0.312],[29.2567,0.312],[29.2587,0.257],[29.2607,0.285],[29.2625,0.244],[29.264,0.298],[29.2657,0.366],[29.2675,0.230],[29.269,0.257],[29.271,0.298],[29.273,0.325],[29.275,0.257],[29.2767,0.176],[29.2787,0.176],[29.2807,0.108],[29.2825,0.068],[29.284,0.041],[29.2857,-0.054],[29.2875,0.068],[29.289,0.163],[29.291,0.190],[29.293,0.190],[29.295,0.203],[29.2967,0.203],[29.2987,0.176],[29.3007,0.108],[29.3025,0.068],[29.304,-0.041],[29.306,-0.068],[29.308,-0.176],[29.310,-0.190],[29.3117,-0.230],[29.3137,-0.257],[29.3157,-0.352],[29.3175,-0.325],[29.319,-0.285],[29.321,-0.203],[29.323,-0.149],[29.325,-0.122],[29.3267,-0.122],[29.3287,-0.136],[29.3307,-0.095],[29.3325,-0.136],[29.334,-0.122],
  [29.3358,-0.122],[29.3375,-0.095],[29.339,-0.136],[29.341,-0.108],[29.343,-0.136],[29.344,-0.203],[29.346,-0.122],[29.348,-0.108],[29.350,-0.122],[29.3518,-0.176],[29.3538,-0.230],[29.3558,-0.203],[29.3575,-0.257],[29.3593,-0.203],[29.3613,-0.257],[29.3633,-0.271],[29.365,-0.325],[29.3668,-0.352],[29.3683,-0.420],[29.370,-0.488],[29.3718,-0.447],[29.3738,-0.501],[29.3758,-0.583],[29.3775,-0.610],[29.3793,-0.718],[29.3813,-0.678],[29.3833,-0.664],[29.385,-0.650],[29.3868,-0.691],[29.3888,-0.745],[29.3908,-0.772],[29.3925,-0.854],[29.3943,-0.935],[29.3958,-0.854],[29.3975,-0.799],[29.3993,-0.745],[29.4008,-0.745],[29.4025,-0.732],[29.4043,-0.718],[29.4063,-0.745],[29.4083,-0.759],[29.41,-0.732],[29.4118,-0.718],[29.4138,-0.745],[29.4158,-0.705],[29.4175,-0.691],[29.4193,-0.678],[29.4213,-0.623],[29.4233,-0.542],[29.425,-0.488],[29.4263,-0.528],[29.4275,-0.610],[29.4288,-0.718],[29.4308,-0.813],[29.4325,-0.745],[29.4343,-0.799],[29.4363,-0.854],[29.4383,-0.799],[29.44,-0.745],[29.4418,-0.799],[29.4438,-0.745],[29.4458,-0.772],[29.4475,-0.827],[29.4493,-0.827],[29.4513,-0.840],[29.4533,-0.867],[29.455,-0.881],[29.4568,-0.854],[29.4588,-0.881],[29.4608,-0.854],[29.4625,-0.881],[29.4643,-0.813],[29.4663,-0.827],[29.4683,-0.813],[29.47,-0.745],[29.4718,-0.691],[29.4738,-0.637],[29.4758,-0.610],[29.4775,-0.583],[29.4793,-0.664],[29.4808,-0.745],[29.4825,-0.786],[29.4843,-0.745],[29.4863,-0.799],[29.4883,-0.854],[29.49,-0.799],[29.4918,-0.881],[29.4938,-0.840],[29.4958,-0.854],[29.4975,-0.881],[29.4993,-0.854],
  [29.501,-0.894],[29.5028,-0.881],[29.5045,-0.921],[29.5065,-0.908],[29.5085,-0.881],[29.5103,-0.935],[29.512,-1.016],[29.5135,-1.084],[29.5153,-1.016],[29.517,-1.003],[29.519,-1.070],[29.521,-1.125],[29.5228,-1.206],[29.524,-1.233],[29.5253,-1.179],[29.5265,-1.111],[29.5285,-1.070],[29.5303,-0.989],[29.532,-1.043],[29.5335,-0.962],[29.5353,-0.949],[29.537,-0.989],[29.539,-0.935],[29.5403,-0.894],[29.5415,-0.962],[29.5435,-1.016],[29.5453,-1.098],[29.547,-1.165],[29.5485,-1.220],[29.5503,-1.179],[29.552,-1.192],[29.554,-1.192],[29.556,-1.206],[29.5578,-1.179],[29.5595,-1.098],[29.5615,-1.070],[29.5635,-1.003],[29.5653,-0.962],[29.567,-0.989],[29.569,-0.962],[29.571,-1.016],[29.5728,-1.003],[29.5745,-0.962],[29.5765,-1.030],[29.5785,-1.070],[29.5803,-1.016],[29.582,-1.030],[29.584,-0.976],[29.586,-0.962],[29.5878,-0.935],[29.5895,-0.976],[29.5915,-0.935],[29.5935,-0.962],[29.5953,-0.962],[29.597,-0.935],[29.599,-0.881],[29.601,-0.840],[29.6028,-0.881],[29.6045,-0.881],[29.6065,-0.854],[29.6085,-0.894],[29.6103,-0.840],[29.612,-0.813],[29.6135,-0.799],[29.6153,-0.854],[29.617,-0.921],[29.619,-0.976],[29.6203,-0.908],[29.6215,-0.881],[29.6228,-0.799],[29.624,-0.745],[29.6253,-0.705],[29.627,-0.745],[29.6285,-0.799],[29.6303,-0.854],[29.632,-0.908],[29.634,-0.962],[29.636,-1.057],[29.6378,-1.070],[29.6395,-1.043],[29.6415,-1.084],[29.6435,-1.098],[29.6453,-1.125],[29.647,-1.179],[29.6485,-1.192],[29.6503,-1.233],[29.652,-1.206],[29.6535,-1.247],[29.6553,-1.287],[29.657,-1.355],[29.6585,-1.396],[29.6603,-1.369],[29.6615,-1.287],[29.6635,-1.233],[29.6653,-1.179],
  [29.6687,-1.233],[29.6705,-1.192],[29.6722,-1.260],[29.6742,-1.274],[29.6762,-1.233],[29.678,-1.301],[29.6797,-1.341],[29.6817,-1.328],[29.6837,-1.369],[29.6855,-1.341],[29.6872,-1.396],[29.6892,-1.396],[29.6912,-1.436],[29.693,-1.450],[29.6942,-1.477],[29.6955,-1.314],[29.6972,-1.314],[29.6992,-1.301],[29.7012,-1.314],[29.703,-1.247],[29.7047,-1.233],[29.7067,-1.287],[29.7087,-1.328],[29.7105,-1.341],[29.7122,-1.233],[29.7142,-1.165],[29.7162,-1.125],[29.718,-1.125],[29.7197,-1.111],[29.7212,-1.192],[29.723,-1.125],[29.7247,-1.098],[29.7262,-1.043],[29.728,-1.016],[29.7297,-1.057],[29.7317,-1.043],[29.733,-0.881],[29.7342,-0.854],[29.7362,-0.745],[29.738,-0.705],[29.7397,-0.664],[29.7417,-0.623],[29.7437,-0.583],[29.7455,-0.474],[29.7467,-0.420],[29.7487,-0.379],[29.7497,-0.339],[29.7512,-0.461],[29.753,-0.501],[29.7547,-0.556],[29.7562,-0.447],[29.758,-0.312],[29.7597,-0.393],[29.7612,-0.420],[29.763,-0.285],[29.7647,-0.230],[29.7667,-0.203],[29.7687,-0.149],[29.7705,-0.136],[29.7722,-0.122],[29.7737,-0.095],[29.7747,-0.122],[29.7762,-0.203],[29.778,-0.257],[29.7797,-0.298],[29.7817,-0.366],[29.7837,-0.474],[29.7855,-0.528],[29.7872,-0.583],[29.7892,-0.610],[29.7912,-0.650],[29.793,-0.623],[29.7947,-0.583],[29.7962,-0.610],[29.798,-0.596],[29.7997,-0.542],[29.8017,-0.474],[29.8037,-0.488],[29.8055,-0.542],[29.8072,-0.528],[29.8092,-0.556],[29.8112,-0.515],[29.813,-0.528],[29.8147,-0.488],[29.8167,-0.501],[29.8187,-0.420],[29.8205,-0.515],[29.8222,-0.474],[29.8242,-0.610],[29.8255,-0.528],[29.8272,-0.447],[29.8287,-0.407],[29.8305,-0.352],[29.8317,-0.339],
  [29.833,-0.312],[29.8348,-0.352],[29.8368,-0.366],[29.8388,-0.420],[29.8405,-0.515],[29.8423,-0.447],[29.8443,-0.312],[29.8463,-0.257],[29.848,-0.285],[29.8498,-0.325],[29.8505,-0.339]
];

const yellow2 = [
  [29.8518,0.799],[29.8543,0.732],[29.8563,0.827],[29.858,0.881],[29.8598,0.989],[29.8618,1.070],[29.8638,1.043],[29.8655,1.057],[29.8673,1.084],[29.8693,1.098],[29.8713,1.125],[29.873,1.138],[29.8743,1.084],[29.8763,1.030],[29.878,1.016],[29.8798,1.030],[29.8818,1.057],[29.8838,1.179],[29.8855,1.287],[29.8873,1.314],[29.8893,1.328],[29.8913,1.369],[29.893,1.409],[29.8948,1.436],[29.8968,1.463],[29.8988,1.491],[29.9005,1.518],[29.9023,1.504],[29.9043,1.545],[29.9055,1.612],[29.9073,1.721],[29.9088,1.694],[29.9105,1.572],[29.9123,1.599],[29.9138,1.572],[29.9155,1.612],[29.9173,1.680],[29.9193,1.721],[29.9213,1.707],[29.923,1.802],[29.9243,1.789],[29.9263,1.802],[29.928,1.856],[29.9293,1.856],[29.9313,1.816],[29.933,1.829],[29.9348,1.721],[29.9363,1.775],[29.938,1.762],[29.9398,1.789],[29.9418,1.802],[29.9438,1.829],[29.9455,1.802],[29.9473,1.856],[29.9488,1.870],[29.9505,1.775],[29.9523,1.734],[29.9543,1.721],[29.9563,1.748],[29.958,1.626],[29.9598,1.748],[29.9618,1.734],[29.9638,1.653],[29.9655,1.572],[29.9673,1.558],[29.9693,1.572],[29.9713,1.545],[29.973,1.531],[29.9748,1.545],[29.9768,1.558],[29.9788,1.531],[29.9805,1.518],[29.9823,1.409],[29.9843,1.314],[29.9855,1.233],[29.9873,1.179],[29.9888,1.125],[29.9905,1.057],[29.9923,1.111],[29.9938,1.070],[29.9955,1.016],[29.9968,1.125],[29.9988,1.165]
];

// birth (circle) and death (cross) events
const circleT = [29.35, 29.451, 29.701, 29.851];
const circleX = [-0.165, 1.588, 0.972, 0.835];
const crossT = [29.35, 29.45, 29.70, 29.85];
const crossX = [-1.47, -0.71, -0.345, -0.34];

const xTicks = [29.0, 29.2, 29.4, 29.6, 29.8, 30.0];
const yTicks = [-2, -1, 0, 1, 2];

const serif = '"Liberation Serif", "Times New Roman", serif';

const svg = d3.select('#container')
    .append('svg')
    .attr('width', 1604)
    .attr('height', 1138)
    .style('display', 'block');

const plotLeft = 207, plotRight = 1538.5, plotTop = 17, plotBottom = 984.5;

const x = d3.scaleLinear().domain([29, 30]).range([plotLeft, plotRight]);
const y = d3.scaleLinear().domain([-2.1, 2.1]).range([plotBottom, plotTop]);

const line = d3.line()
    .x(d => x(d[0]))
    .y(d => y(d[1]));

const series = [
    { data: green, color: '#008000' },
    { data: red1, color: '#ff0000' },
    { data: red2, color: '#ff0000' },
    { data: blue1, color: '#0000ff' },
    { data: blue2, color: '#0000ff' },
    { data: blue3, color: '#0000ff' },
    { data: yellow1, color: '#bfbf00' },
    { data: yellow2, color: '#bfbf00' }
];

svg.append('g')
    .selectAll('path')
    .data(series)
    .join('path')
    .attr('d', d => line(d.data))
    .attr('fill', 'none')
    .attr('stroke', d => d.color)
    .attr('stroke-width', 2.8)
    .attr('stroke-linejoin', 'round');

// axes, ticks pointing inward on all four sides
function styleAxis(g) {
    g.attr('color', '#000').attr('font-size', null).attr('font-family', null);
    g.select('.domain').remove();
    g.selectAll('.tick line').attr('stroke-width', 1.5);
    g.selectAll('.tick text')
        .attr('font-family', serif)
        .attr('font-size', 72)
        .attr('fill', '#000');
}

svg.append('g')
    .attr('transform', `translate(0,${plotBottom})`)
    .call(d3.axisBottom(x).tickValues(xTicks).tickFormat(d3.format('.1f'))
        .tickSizeInner(-12).tickSizeOuter(0).tickPadding(17))
    .call(styleAxis);

svg.append('g')
    .attr('transform', `translate(0,${plotTop})`)
    .call(d3.axisTop(x).tickValues(xTicks).tickFormat(() => '')
        .tickSizeInner(-12).tickSizeOuter(0))
    .call(styleAxis);

svg.append('g')
    .attr('transform', `translate(${plotLeft},0)`)
    .call(d3.axisLeft(y).tickValues(yTicks).tickFormat(d3.format('d'))
        .tickSizeInner(-12).tickSizeOuter(0).tickPadding(13))
    .call(styleAxis);

svg.append('g')
    .attr('transform', `translate(${plotRight},0)`)
    .call(d3.axisRight(y).tickValues(yTicks).tickFormat(() => '')
        .tickSizeInner(-12).tickSizeOuter(0))
    .call(styleAxis);

svg.append('rect')
    .attr('x', plotLeft)
    .attr('y', plotTop)
    .attr('width', plotRight - plotLeft)
    .attr('height', plotBottom - plotTop)
    .attr('fill', 'none')
    .attr('stroke', '#000')
    .attr('stroke-width', 3);

// markers
const markers = svg.append('g');
markers.selectAll('circle')
    .data(d3.range(circleT.length))
    .join('circle')
    .attr('cx', i => x(circleT[i]))
    .attr('cy', i => y(circleX[i]))
    .attr('r', 36)
    .attr('fill', 'none')
    .attr('stroke', '#000')
    .attr('stroke-width', 7);

const s = 36;
markers.selectAll('path')
    .data(d3.range(crossT.length))
    .join('path')
    .attr('transform', i => `translate(${x(crossT[i])},${y(crossX[i])})`)
    .attr('d', `M${-s},${-s}L${s},${s}M${-s},${s}L${s},${-s}`)
    .attr('fill', 'none')
    .attr('stroke', '#000')
    .attr('stroke-width', 7);

// labels
svg.append('text')
    .attr('x', 228)
    .attr('y', 123)
    .attr('font-family', serif)
    .attr('font-weight', 'bold')
    .attr('font-size', 118)
    .text('(a)');

svg.append('text')
    .attr('x', (plotLeft + plotRight) / 2)
    .attr('y', 1128)
    .attr('text-anchor', 'middle')
    .attr('font-family', serif)
    .attr('font-style', 'italic')
    .attr('font-size', 76)
    .text('t');

svg.append('text')
    .attr('transform', 'translate(70,505) rotate(-90)')
    .attr('text-anchor', 'middle')
    .attr('font-family', serif)
    .attr('font-style', 'italic')
    .attr('font-size', 76)
    .text('x(t)');
</script>
</body>
</html>
